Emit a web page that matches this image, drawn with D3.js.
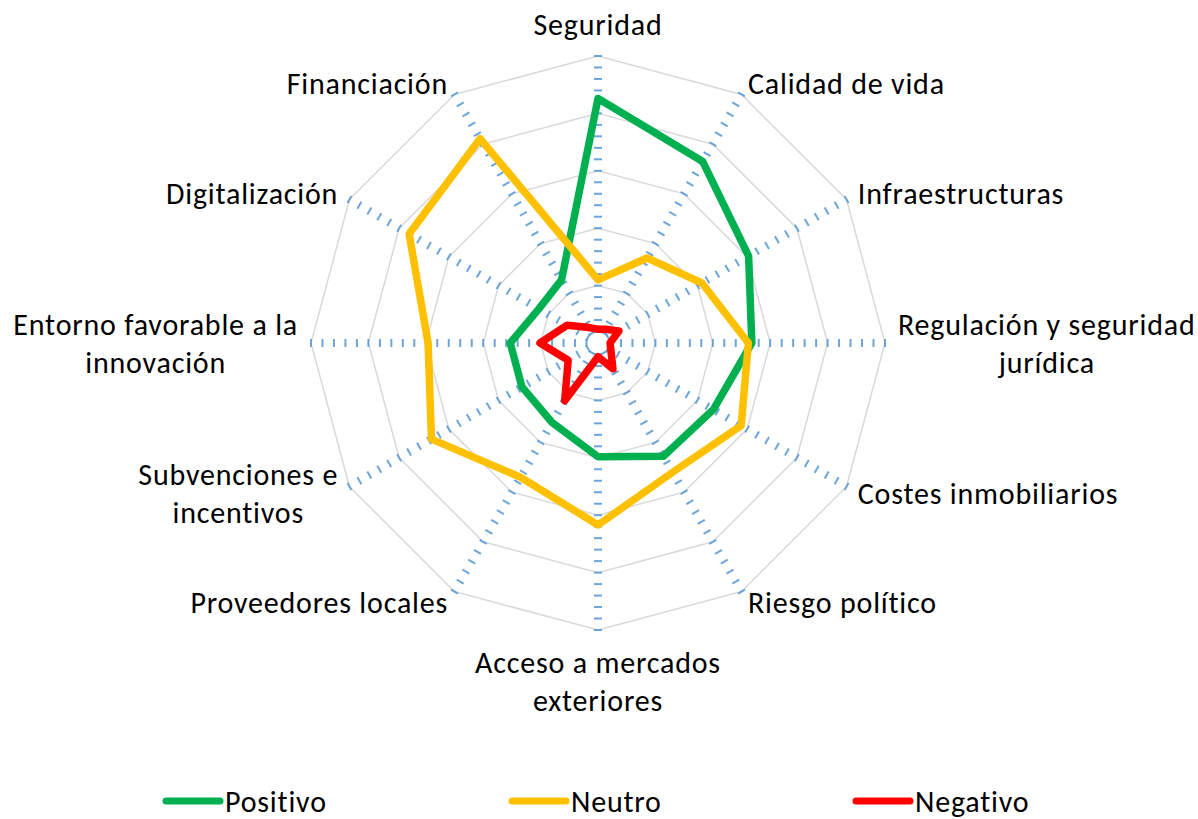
<!DOCTYPE html>
<html>
<head>
<meta charset="utf-8">
<script src="https://cdn.jsdelivr.net/npm/d3@7"></script>
<style>
  body { margin: 0; background: #fff; }
  svg { display: block; }
  text { font-family: Calibri, Carlito, Lato, sans-serif; fill: #000; letter-spacing: 0.8px; }
</style>
</head>
<body>
<div id="chart"></div>
<script>
// categories, clockwise from the top
var categories = [
    "Seguridad",
    "Calidad de vida",
    "Infraestructuras",
    "Regulación y seguridad|jurídica",
    "Costes inmobiliarios",
    "Riesgo político",
    "Acceso a mercados|exteriores",
    "Proveedores locales",
    "Subvenciones e|incentivos",
    "Entorno favorable a la|innovación",
    "Digitalización",
    "Financiación"
];

var positivo = [42.6, 36.5, 30.3, 26.8, 23.2, 22.8, 19.8, 16, 15.3, 15.3, 11.9, 12.7];
var neutro   = [11, 17.1, 20.9, 26.2, 28.8, 26, 31.7, 27, 33.5, 29.6, 38, 41.1];
var negativo = [2.4, 2.75, 4.2, 2.1, 2.6, 5.2, 2.4, 11.6, 6, 10.1, 6.2, 3.1];

var seriesNames = ["Positivo", "Neutro", "Negativo"];
var seriesColors = ["#00b050", "#ffc000", "#ff0000"];

var ringTicks = [10, 20, 30, 40, 50];
var minorStep = 2;

var width = 1198, height = 819;
var cx = 598, cy = 343;
var outerR = 287;
var fontSize = 30, lineH = 38;

var svg = d3.select("#chart").append("svg")
    .attr("width", width)
    .attr("height", height);

var r = d3.scaleLinear().domain([0, 50]).range([0, outerR]);

var angle = d3.scalePoint()
    .domain(d3.range(categories.length))
    .range([0, 2 * Math.PI * (categories.length - 1) / categories.length]);

function pt(i, v) {
    var a = angle(i);
    return [cx + Math.sin(a) * r(v), cy - Math.cos(a) * r(v)];
}

var g = svg.append("g");

// grey rings (12-sided)
ringTicks.forEach(function(t) {
    var ring = categories.map(function(c, i) { return pt(i, t); });
    g.append("path")
        .attr("d", d3.line().curve(d3.curveLinearClosed)(ring))
        .attr("fill", "none")
        .attr("stroke", "#d9d9d9")
        .attr("stroke-width", 1.5);
});

// spokes drawn as small blue tick marks
var minorTicks = d3.range(minorStep, 50 + 0.001, minorStep);
categories.forEach(function(c, i) {
    var a = angle(i);
    var ux = Math.sin(a), uy = -Math.cos(a);
    var px = -uy, py = ux;
    minorTicks.forEach(function(t) {
        var x = cx + ux * r(t), y = cy + uy * r(t);
        g.append("line")
            .attr("x1", x - px * 4).attr("y1", y - py * 4)
            .attr("x2", x + px * 4).attr("y2", y + py * 4)
            .attr("stroke", "#5b9bd5")
            .attr("stroke-opacity", 0.9)
            .attr("stroke-width", 2);
    });
});

// series
var allSeries = [positivo, neutro, negativo];
var radarLine = d3.line().curve(d3.curveLinearClosed);
allSeries.forEach(function(vals, s) {
    g.append("path")
        .attr("d", radarLine(vals.map(function(v, i) { return pt(i, v); })))
        .attr("fill", "none")
        .attr("stroke", seriesColors[s])
        .attr("stroke-width", 7.5)
        .attr("stroke-linejoin", "round");
});

// category labels
var labelR = outerR + 13;
categories.forEach(function(c, i) {
    var lines = c.split("|");
    var a = angle(i);
    var x = cx + Math.sin(a) * labelR;
    var y = cy - Math.cos(a) * labelR;
    var blockH = lines.length * lineH;
    var sin = Math.sin(a);
    var top;
    if (Math.abs(sin) < 0.01) {
        top = Math.cos(a) > 0 ? y - blockH : y;
    } else {
        top = y - blockH / 2;
    }
    var t = svg.append("text")
        .attr("font-size", fontSize)
        .attr("text-anchor", "middle");
    lines.forEach(function(l, k) {
        t.append("tspan")
            .attr("y", top + lineH * k + lineH / 2)
            .attr("dy", "0.35em")
            .text(l);
    });
    // block aligned to the anchor, lines centred inside the block
    var tsp = t.selectAll("tspan").nodes();
    var w = d3.max(tsp, function(n) { return n.getComputedTextLength(); });
    var xc = x;
    if (sin > 0.01) xc = x + w / 2;
    if (sin < -0.01) xc = x - w / 2;
    t.selectAll("tspan").attr("x", xc);
});

// legend
var legendX = [166, 512, 856];
var legendY = 801;
seriesNames.forEach(function(name, s) {
    svg.append("line")
        .attr("x1", legendX[s]).attr("x2", legendX[s] + 54)
        .attr("y1", legendY).attr("y2", legendY)
        .attr("stroke", seriesColors[s])
        .attr("stroke-width", 7)
        .attr("stroke-linecap", "round");
    svg.append("text")
        .attr("x", legendX[s] + 59)
        .attr("y", legendY)
        .attr("dy", "0.35em")
        .attr("font-size", fontSize)
        .text(name);
});
</script>
</body>
</html>
